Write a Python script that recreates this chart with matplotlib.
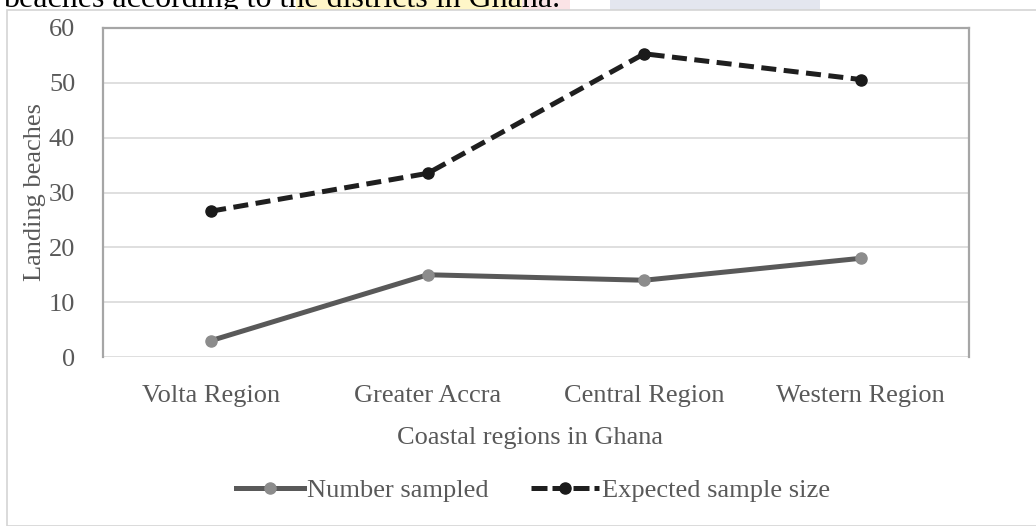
import matplotlib
matplotlib.use("Agg")
import matplotlib.pyplot as plt
from matplotlib.patches import Rectangle
from matplotlib.lines import Line2D

# landing beaches per coastal region
regions = ["Volta Region", "Greater Accra", "Central Region", "Western Region"]
number_sampled = [3, 15, 14, 18]
expected_size = [26.6, 33.5, 55.3, 50.6]
yticks = [0, 10, 20, 30, 40, 50, 60]

W, H = 1036, 526
txt = "#595959"
fs = 19
dash = (0, (3.0, 1.5))
plt.rcParams["font.family"] = ["Liberation Serif", "DejaVu Serif"]

fig = plt.figure(figsize=(W / 100, H / 100), dpi=100)
fig.patch.set_facecolor("white")

def px(x, y):
    return x / W, 1 - y / H

# caption line from the page, its top sliced away
fig.patches.append(Rectangle(px(296, 10), 226 / W, 10 / H, transform=fig.transFigure,
                             facecolor="#fff6c8", edgecolor="none", zorder=-3))
fig.patches.append(Rectangle(px(522, 10), 48 / W, 10 / H, transform=fig.transFigure,
                             facecolor="#fbe3e6", edgecolor="none", zorder=-3))
fig.patches.append(Rectangle(px(610, 10), 210 / W, 10 / H, transform=fig.transFigure,
                             facecolor="#e3e6ef", edgecolor="none", zorder=-3))
fig.text(*px(3, 7), "beaches according to the districts in Ghana.", fontsize=23,
         color="black", ha="left", va="baseline", zorder=-2)

# chart frame
fig.patches.append(Rectangle(px(7, 526), 1040 / W, 516 / H, transform=fig.transFigure,
                             facecolor="white", edgecolor="#d4d4d4", lw=1.2, zorder=-1))

ax = fig.add_axes([103 / W, (H - 357) / H, 866 / W, 329 / H])
x = range(len(regions))
ax.plot(x, number_sampled, color="#595959", lw=3.6, marker="o", ms=8,
        mfc="#8c8c8c", mec="#8c8c8c", solid_capstyle="round", zorder=3)
ax.plot(x, expected_size, color="#1f1f1f", lw=3.6, ls=dash, marker="o", ms=8,
        mfc="#1a1a1a", mec="#1a1a1a", zorder=3)

ax.set_xlim(-0.5, len(regions) - 0.5)
ax.set_ylim(0, 60)
ax.set_yticks(yticks)
ax.set_xticks(list(x))
ax.set_xticklabels(regions)
ax.grid(axis="y", color="#d9d9d9", lw=1.2)
ax.set_axisbelow(True)
for s in ["left", "top", "right"]:
    ax.spines[s].set_color("#a6a6a6")
    ax.spines[s].set_linewidth(1.6)
ax.spines["bottom"].set_visible(False)
ax.tick_params(length=0, labelsize=fs, labelcolor=txt)
ax.tick_params(axis="y", pad=20)
ax.tick_params(axis="x", pad=20)

fig.text(*px(35, 192), "Landing beaches", rotation=90, fontsize=fs, color=txt,
         ha="center", va="center")
fig.text(*px(530, 438), "Coastal regions in Ghana", fontsize=fs, color=txt,
         ha="center", va="center")

handles = [
    Line2D([], [], color="#595959", lw=3.6, marker="o", ms=8, mfc="#8c8c8c", mec="#8c8c8c"),
    Line2D([], [], color="#1f1f1f", lw=3.6, ls=(0, (3.2, 1.0)), marker="o", ms=8,
           mfc="#1a1a1a", mec="#1a1a1a"),
]
leg = fig.legend(handles, ["Number sampled", "Expected sample size"], loc="center",
                 bbox_to_anchor=px(533, 490), ncol=2, frameon=False, fontsize=fs,
                 handlelength=2.6, handletextpad=0.1, columnspacing=1.6)
for t in leg.get_texts():
    t.set_color(txt)

fig.savefig("out.png", dpi=100)
